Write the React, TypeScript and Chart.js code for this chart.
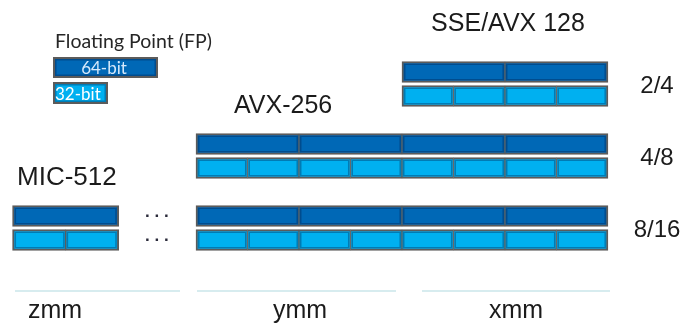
import React, { useEffect, useRef } from "react";
import { Chart, registerables } from "chart.js";

Chart.register(...registerables);

// Rows of the diagram (category axis); gap rows separate the register families
const rowLabels = ["xmm-64", "xmm-32", "gapA", "ymm-64", "ymm-32", "gapB", "zmm-64", "zmm-32"];

// Lane boundaries in bit positions (0 = start of the 256-bit ymm register)
const xmm64Lanes: [number, number][] = [[128, 192], [192, 256]];
const xmm32Lanes: [number, number][] = [[128, 160], [160, 192], [192, 224], [224, 256]];
const ymm64Lanes: [number, number][] = [[0, 64], [64, 128], [128, 192], [192, 256]];
const ymm32Lanes: [number, number][] = [[0, 32], [32, 64], [64, 96], [96, 128], [128, 160], [160, 192], [192, 224], [224, 256]];
const zmm64Lanes: [number, number][] = [[-114, -48], [0, 64], [64, 128], [128, 192], [192, 256]];
const zmm32Lanes: [number, number][] = [[-114, -81], [-81, -48], [0, 32], [32, 64], [64, 96], [96, 128], [128, 160], [160, 192], [192, 224], [224, 256]];

// Texts
const familyTitles = ["SSE/AVX 128", "AVX-256", "MIC-512"];
const elementCounts = ["2/4", "4/8", "8/16"];
const registerNames = ["zmm", "ymm", "xmm"];
const legendTitle = "Floating Point (FP)";
const legendLabels = ["64-bit", "32-bit"];

const DARK = "#0068b6";
const LIGHT = "#00b0f0";
const EDGE = "#5b5b5b";

type Cell = { x: [number, number]; y: string };
const toCells = (lanes: [number, number][], row: string): Cell[] => lanes.map((l) => ({ x: l, y: row }));

const cells64: Cell[] = [
  ...toCells(xmm64Lanes, "xmm-64"),
  ...toCells(ymm64Lanes, "ymm-64"),
  ...toCells(zmm64Lanes, "zmm-64"),
];
const cells32: Cell[] = [
  ...toCells(xmm32Lanes, "xmm-32"),
  ...toCells(ymm32Lanes, "ymm-32"),
  ...toCells(zmm32Lanes, "zmm-32"),
];
const allCells = [...cells64, ...cells32];

const borderFor = (ctx: any) => {
  const r = ctx.raw as Cell | undefined;
  if (!r) return 2;
  const row = allCells.filter((c) => c.y === r.y);
  const leftShared = row.some((c) => c.x[1] === r.x[0]);
  const rightShared = row.some((c) => c.x[0] === r.x[1]);
  return { top: 2, bottom: 2, left: leftShared ? 1 : 2, right: rightShared ? 1 : 2 };
};

const drawBox = (c: CanvasRenderingContext2D, l: number, t: number, r: number, b: number, fill: string) => {
  c.fillStyle = EDGE;
  c.fillRect(l, t, r - l, b - t);
  c.fillStyle = fill;
  c.fillRect(l + 2, t + 2, r - l - 4, b - t - 4);
  c.strokeStyle = "rgba(0,25,70,0.35)";
  c.lineWidth = 1.5;
  c.strokeRect(l + 2.75, t + 2.75, r - l - 5.5, b - t - 5.5);
};

const diagramPlugin = {
  id: "diagram",
  afterDatasetsDraw(chart: any) {
    const c: CanvasRenderingContext2D = chart.ctx;
    c.save();
    // inner shading of every lane cell
    chart.data.datasets.forEach((_: any, di: number) => {
      const meta = chart.getDatasetMeta(di);
      meta.data.forEach((el: any, i: number) => {
        const p = el.getProps(["x", "y", "base", "height"], true);
        const bw = borderFor({ raw: chart.data.datasets[di].data[i] }) as any;
        const l = Math.min(p.x, p.base) + bw.left;
        const r = Math.max(p.x, p.base) - bw.right;
        const t = p.y - p.height / 2 + 2;
        const b = p.y + p.height / 2 - 2;
        c.strokeStyle = "rgba(0,25,70,0.35)";
        c.lineWidth = 1.5;
        c.strokeRect(l + 0.75, t + 0.75, r - l - 1.5, b - t - 1.5);
      });
    });

    const yS = chart.scales.y;
    const sans = "'Liberation Sans', Arial, sans-serif";
    c.fillStyle = "#1b1b1b";
    c.textBaseline = "alphabetic";

    // family titles
    c.font = `25px ${sans}`;
    c.textAlign = "center";
    c.fillText(familyTitles[0], 508, 31);
    c.textAlign = "left";
    c.fillText(familyTitles[1], 234, 113);
    c.font = `26px ${sans}`;
    c.fillText(familyTitles[2], 17, 185);

    // element counts, centred on each pair of rows
    c.font = `24px ${sans}`;
    c.textAlign = "center";
    const pairs = [["xmm-64", "xmm-32"], ["ymm-64", "ymm-32"], ["zmm-64", "zmm-32"]];
    pairs.forEach((pr, i) => {
      const yc = (yS.getPixelForValue(rowLabels.indexOf(pr[0])) + yS.getPixelForValue(rowLabels.indexOf(pr[1]))) / 2;
      c.fillText(elementCounts[i], 657, yc + 9);
    });

    // ellipsis between zmm fragment and the rest
    c.font = `bold 17px ${sans}`;
    c.textAlign = "left";
    c.fillStyle = "#2a2a3a";
    ["zmm-64", "zmm-32"].forEach((row) => {
      const yc = yS.getPixelForValue(rowLabels.indexOf(row));
      c.fillText(". . .", 145, yc + 1);
    });

    // register underline + names
    c.fillStyle = "#d7ecef";
    const spans: [number, number][] = [[15, 180], [197, 396], [422, 610]];
    spans.forEach(([a, b]) => c.fillRect(a, 290, b - a, 2));
    c.fillStyle = "#1b1b1b";
    c.font = `25px ${sans}`;
    c.textAlign = "center";
    const centers = [55, 300, 516];
    registerNames.forEach((n, i) => c.fillText(n, centers[i], 318));

    // legend
    c.font = "19.5px Lato, 'Open Sans', sans-serif";
    c.textAlign = "left";
    c.fillStyle = "#262626";
    c.fillText(legendTitle, 55, 48);
    drawBox(c, 53, 57, 158, 78, DARK);
    drawBox(c, 53, 82, 108, 104, LIGHT);
    c.font = "17px Lato, 'Open Sans', sans-serif";
    c.fillStyle = "#d6e9fb";
    c.textAlign = "center";
    c.fillText(legendLabels[0], 104, 74);
    c.fillStyle = "#ffffff";
    c.textAlign = "left";
    c.fillText(legendLabels[1], 55, 100);
    c.restore();
  },
};

export default function App() {
  const ref = useRef<HTMLCanvasElement>(null);
  useEffect(() => {
    if (!ref.current) return;
    const chart = new Chart(ref.current, {
      type: "bar",
      data: {
        labels: rowLabels,
        datasets: [
          {
            label: legendLabels[0],
            data: cells64 as any,
            backgroundColor: DARK,
            borderColor: EDGE,
            borderWidth: borderFor as any,
            borderSkipped: false,
            barThickness: 21,
            grouped: false,
          },
          {
            label: legendLabels[1],
            data: cells32 as any,
            backgroundColor: LIGHT,
            borderColor: EDGE,
            borderWidth: borderFor as any,
            borderSkipped: false,
            barThickness: 21,
            grouped: false,
          },
        ],
      },
      options: {
        indexAxis: "y",
        animation: false,
        responsive: false,
        maintainAspectRatio: false,
        layout: { padding: { top: 60, bottom: 73, left: 0, right: 0 } },
        scales: {
          x: { type: "linear", min: -121.8, max: 301.4, display: false },
          y: { type: "category", display: false, offset: true },
        },
        plugins: { legend: { display: false }, tooltip: { enabled: false } },
      },
      plugins: [diagramPlugin],
    });
    return () => chart.destroy();
  }, []);
  return (
    <div style={{ position: "absolute", left: 0, top: 0, width: 681, height: 325, background: "#fff" }}>
      <canvas ref={ref} width={681} height={325} style={{ width: 681, height: 325, display: "block" }} />
    </div>
  );
}
